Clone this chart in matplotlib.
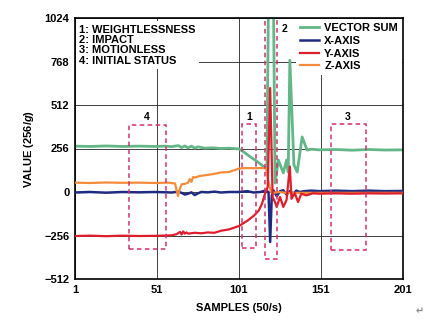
import matplotlib.pyplot as plt
from matplotlib.patches import Rectangle

plt.rcParams['font.family'] = ['Liberation Sans', 'DejaVu Sans']
plt.rcParams['font.weight'] = 'bold'
plt.rcParams['mathtext.fontset'] = 'custom'
plt.rcParams['mathtext.bfit'] = 'Liberation Sans:bold:italic'

# ---- data ----
x_ticks = [1, 51, 101, 151, 201]
y_ticks = [-512, -256, 0, 256, 512, 768, 1024]

vec_x = [1, 10, 20, 30, 40, 50, 56, 60, 64, 66, 68, 70, 72, 74, 76, 80, 85, 90, 95,
         101, 104, 108, 112, 116, 118, 119.5, 121.5, 123, 125, 128, 130, 131, 132,
         134.5, 136.5, 139.5, 142.5, 145, 150, 160, 170, 180, 190, 201]
vec_y = [270, 268, 271, 268, 270, 268, 270, 267, 273, 262, 271, 260, 270, 258, 266, 258, 260, 256, 258,
         253, 235, 206, 180, 150, 135, 1700, 1700, 53, 188, 112, 188, 118, 775,
         160, 118, 324, 247, 252, 248, 250, 246, 250, 247, 248]

xax_x = [1, 10, 20, 30, 40, 50, 60, 64, 66, 68, 70, 72, 74, 76, 78, 82, 86, 90, 95,
         101, 106, 110, 114, 117, 119, 120, 121, 122, 124, 126, 128, 130, 132, 134,
         136, 138, 141, 145, 150, 160, 170, 180, 190, 201]
xax_y = [-3, 0, -4, 0, -2, 0, -3, 2, -5, -15, -10, -2, -18, -8, 0, -2, 2, -3, 0,
         0, 5, -3, 0, 8, 0, -294, -20, 10, -25, 5, 10, -15, 5, -10,
         8, 0, 5, 8, 5, 8, 5, 8, 5, 6]

yax_x = [1, 10, 20, 30, 40, 50, 60, 63, 65, 66, 67, 68, 69, 70, 74, 78, 82, 86, 90, 95,
         101, 106, 110, 113, 115, 117, 118.5, 120, 121.5, 123, 124, 126, 128, 130, 132,
         133, 135, 137, 139, 142, 146, 150, 160, 170, 180, 190, 201]
yax_y = [-259, -257, -260, -257, -259, -258, -255, -248, -235, -250, -232, -245, -238, -245, -240, -243, -238, -240, -228, -220,
         -200, -170, -140, -110, -70, -6, 29, 612, -30, -60, -88, -29, -88, -47, 150,
         -40, -6, -59, -10, -20, -8, -10, -8, -10, -8, -9, -8]

zax_x = [1, 10, 20, 30, 40, 50, 58, 62, 63.8, 65, 66, 68, 70, 71, 72, 73, 74, 77, 80, 85,
         90, 95, 101, 105, 110, 115, 117.5, 119, 120.5, 122, 125, 130, 140, 150, 201]
zax_y = [55, 53, 56, 54, 55, 53, 55, 50, -24, 20, 45, 48, 55, 76, 60, 88, 85, 94, 98, 105,
         115, 118, 138, 141, 140, 141, 140, 60, 0, -5, 0, -5, -5, -5, -5]

# marked regions: (label, x0, x1, y0, y1)
regions = [('4', 34, 56.5, -335, 394),
           ('1', 102.8, 111.4, -330, 400),
           ('2', 116.9, 124.2, -394, 1100),
           ('3', 157, 178.4, -341, 400)]
region_label_pos = {'4': (45, 441), '1': (107, 441), '2': (129, 960), '3': (167.5, 441)}

notes = "1: WEIGHTLESSNESS\n2: IMPACT\n3: MOTIONLESS\n4: INITIAL STATUS"

c_vec = '#62b687'
c_x = '#1f2a80'
c_y = '#dc1e2d'
c_z = '#f58c3c'
c_box = '#d0326e'

fig = plt.figure(figsize=(4.3, 3.24), dpi=100)
ax = fig.add_axes([75/430, 1-279/324, 328/430, 261/324])

ax.set_xlim(1, 201)
ax.set_ylim(-512, 1024)
ax.set_xticks(x_ticks)
ax.set_yticks(y_ticks)
ax.tick_params(length=0, labelsize=8, pad=4)
for lab in ax.get_xticklabels() + ax.get_yticklabels():
    lab.set_fontweight('bold')
ax.grid(color='#222222', linewidth=0.6)
ax.set_axisbelow(True)
for s in ax.spines.values():
    s.set_linewidth(1.2)

l_vec, = ax.plot(vec_x, vec_y, color=c_vec, lw=2.0, label='VECTOR SUM', zorder=2)
l_x, = ax.plot(xax_x, xax_y, color=c_x, lw=1.8, label='X-AXIS', zorder=3)
l_z, = ax.plot(zax_x, zax_y, color=c_z, lw=1.6, label='Z-AXIS', zorder=3.5)
l_y, = ax.plot(yax_x, yax_y, color=c_y, lw=1.6, label='Y-AXIS', zorder=4)

for lab, x0, x1, y0, y1 in regions:
    ax.add_patch(Rectangle((x0, y0), x1 - x0, y1 - y0, fill=False, edgecolor=c_box,
                           lw=1.1, linestyle=(0, (3, 2.2)), zorder=5))
    px, py = region_label_pos[lab]
    ax.text(px, py, lab, fontsize=7.5, fontweight='bold', ha='center', va='center', zorder=6)

ax.text(0.013, 0.975, notes, transform=ax.transAxes, fontsize=8, fontweight='bold',
        va='top', ha='left', linespacing=1.05, zorder=6,
        bbox=dict(boxstyle='square,pad=0.3', facecolor='white', edgecolor='none'))

leg = ax.legend(handles=[l_vec, l_x, l_y, l_z], loc='upper right', fontsize=8,
                frameon=True, fancybox=False, edgecolor='none', framealpha=1,
                handlelength=1.7, handletextpad=0.5, labelspacing=0.25,
                borderpad=0.35, borderaxespad=0.1)
leg.set_zorder(6)
for t in leg.get_texts():
    t.set_fontweight('bold')

ax.set_xlabel('SAMPLES (50/s)', fontsize=8, fontweight='bold', labelpad=6)
ax.set_ylabel('VALUE (256/$\\mathbfit{g}$)', fontsize=8, fontweight='bold', labelpad=6)

fig.text(420/430, 1-311/324, '\u21b5', fontsize=7, color='#888888', ha='center', va='center')

fig.savefig('out.png', dpi=100)
